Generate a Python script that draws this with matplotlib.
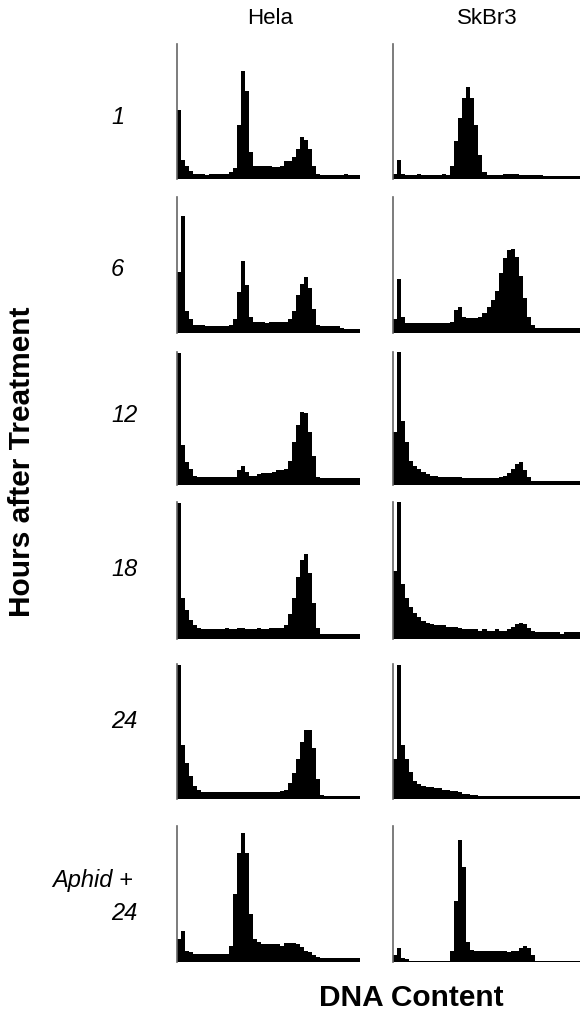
import numpy as np
import matplotlib
matplotlib.use("Agg")
import matplotlib.pyplot as plt

plt.rcParams['font.family'] = ['Liberation Sans', 'DejaVu Sans']

# DNA content histograms, 46 channels each, height in % of panel
cell_lines = ["Hela", "SkBr3"]
timepoints = ["1", "6", "12", "18", "24", "Aphid +\n24"]

hela_1 = [51, 14, 10, 6, 4, 4, 4, 3, 4, 4, 4, 4, 4, 5, 8, 40, 80, 65, 20, 10,
          10, 10, 10, 10, 9, 9, 10, 13, 13, 16, 22, 31, 29, 22, 10, 4,
          3, 3, 3, 3, 3, 3, 4, 3, 3, 3]
hela_6 = [45, 86, 16, 10, 6, 6, 6, 5, 5, 5, 5, 5, 5, 6, 10, 30, 53, 35, 12, 8,
          8, 8, 7, 8, 8, 8, 8, 8, 10, 16, 28, 36, 41, 33, 18, 6,
          5, 5, 5, 5, 5, 4, 3, 3, 3, 3]
hela_12 = [99, 30, 17, 12, 7, 6, 6, 6, 6, 6, 6, 6, 6, 6, 6, 11, 14, 10, 7, 7,
           8, 9, 9, 9, 10, 11, 11, 12, 18, 32, 45, 55, 54, 40, 22, 6,
           5, 5, 5, 5, 5, 5, 5, 5, 5, 5]
hela_18 = [99, 30, 21, 14, 10, 8, 7, 7, 7, 7, 7, 7, 8, 7, 7, 8, 8, 7, 7, 7,
           8, 7, 7, 8, 8, 8, 8, 10, 18, 30, 45, 58, 62, 48, 26, 8,
           4, 4, 4, 4, 4, 4, 4, 4, 4, 4]
hela_24 = [99, 40, 27, 17, 10, 7, 5, 5, 5, 5, 5, 5, 5, 5, 5, 5, 5, 5, 5, 5,
           5, 5, 5, 5, 5, 5, 6, 7, 12, 19, 30, 42, 51, 51, 38, 15,
           3, 2, 2, 2, 2, 2, 2, 2, 2, 2]
hela_aphid = [17, 23, 8, 7, 6, 6, 6, 6, 6, 6, 6, 6, 6, 12, 50, 80, 95, 80, 35, 17,
              15, 13, 13, 13, 13, 13, 12, 14, 14, 14, 13, 11, 8, 7, 5, 4,
              3, 3, 3, 3, 3, 3, 3, 3, 3, 3]

skbr3_1 = [4, 14, 4, 3, 3, 3, 4, 3, 3, 3, 3, 3, 4, 3, 10, 28, 45, 60, 68, 60,
           40, 18, 5, 3, 3, 3, 3, 4, 4, 4, 4, 3, 3, 3, 3, 3,
           3, 2, 2, 2, 2, 2, 2, 2, 2, 2]
skbr3_6 = [10, 40, 12, 7, 7, 7, 7, 7, 7, 7, 7, 7, 7, 7, 8, 17, 19, 12, 11, 11,
           11, 12, 15, 19, 24, 31, 44, 55, 61, 62, 56, 42, 26, 12, 6, 4,
           4, 4, 4, 4, 4, 4, 4, 4, 4, 4]
skbr3_12 = [40, 100, 48, 32, 18, 14, 12, 10, 8, 7, 7, 6, 6, 6, 6, 6, 6, 5, 5, 5,
            5, 5, 5, 5, 5, 5, 6, 7, 9, 12, 16, 17, 11, 6, 3, 3,
            3, 3, 3, 3, 3, 3, 3, 3, 3, 3]
skbr3_18 = [50, 100, 40, 30, 23, 19, 16, 13, 12, 11, 10, 10, 10, 9, 9, 9, 8, 7, 7, 7,
            7, 6, 7, 6, 6, 7, 6, 6, 7, 9, 11, 12, 11, 8, 6, 5,
            5, 5, 5, 5, 5, 4, 5, 5, 5, 5]
skbr3_24 = [30, 99, 40, 30, 20, 13, 11, 10, 9, 9, 8, 8, 7, 7, 6, 6, 5, 4, 4, 3,
            3, 2, 2, 2, 2, 2, 2, 2, 2, 2, 2, 2, 2, 2, 2, 2,
            2, 2, 2, 2, 2, 2, 2, 2, 2, 2]
skbr3_aphid = [5, 10, 3, 2, 1, 1, 1, 1, 1, 1, 1, 1, 1, 1, 8, 45, 90, 70, 15, 9,
               8, 8, 8, 8, 8, 8, 8, 8, 7, 8, 8, 10, 12, 10, 5, 1,
               1, 1, 1, 1, 1, 1, 1, 1, 1, 1]

hela = [hela_1, hela_6, hela_12, hela_18, hela_24, hela_aphid]
skbr3 = [skbr3_1, skbr3_6, skbr3_12, skbr3_18, skbr3_24, skbr3_aphid]

W, H = 582, 1020
fig = plt.figure(figsize=(W / 100, H / 100), dpi=100)

# panel rows: (top, bottom) in pixels; columns: (left, right)
rows_px = [(45, 180), (198, 334), (353, 486), (503, 640), (665, 800), (827, 963)]
cols_px = [(177, 360), (393, 580)]

for r, (top, bot) in enumerate(rows_px):
    for c, (lft, rgt) in enumerate(cols_px):
        ax = fig.add_axes([lft / W, 1 - bot / H, (rgt - lft) / W, (bot - top) / H])
        vals = (hela if c == 0 else skbr3)[r]
        edges = np.arange(len(vals) + 1)
        ax.stairs(vals, edges, fill=True, color='black', baseline=0)
        ax.set_xlim(0, len(vals))
        ax.set_ylim(0, 100)
        for s in ['top', 'right', 'bottom']:
            ax.spines[s].set_visible(False)
        ax.spines['left'].set_color('#666666')
        ax.spines['left'].set_linewidth(1.2)
        ax.set_xticks([])
        ax.set_yticks([])

fig.text(270 / W, 1 - 18 / H, cell_lines[0], ha='center', va='center', fontsize=16)
fig.text(487 / W, 1 - 18 / H, cell_lines[1], ha='center', va='center', fontsize=16)

label_y = [117, 270, 415, 570, 722]
for lab, y in zip(timepoints[:5], label_y):
    fig.text(111 / W, 1 - y / H, lab, ha='left', va='center', fontsize=17, style='italic')
fig.text(52 / W, 1 - 880 / H, "Aphid +", ha='left', va='center', fontsize=17, style='italic')
fig.text(111 / W, 1 - 913 / H, "24", ha='left', va='center', fontsize=17, style='italic')

fig.text(22 / W, 1 - 462 / H, "Hours after Treatment", rotation=90, ha='center',
         va='center', fontsize=21.5, fontweight='bold')
fig.text(411 / W, 1 - 998 / H, "DNA Content", ha='center', va='center',
         fontsize=21.5, fontweight='bold')

fig.savefig("out.png", dpi=100, facecolor='white')
